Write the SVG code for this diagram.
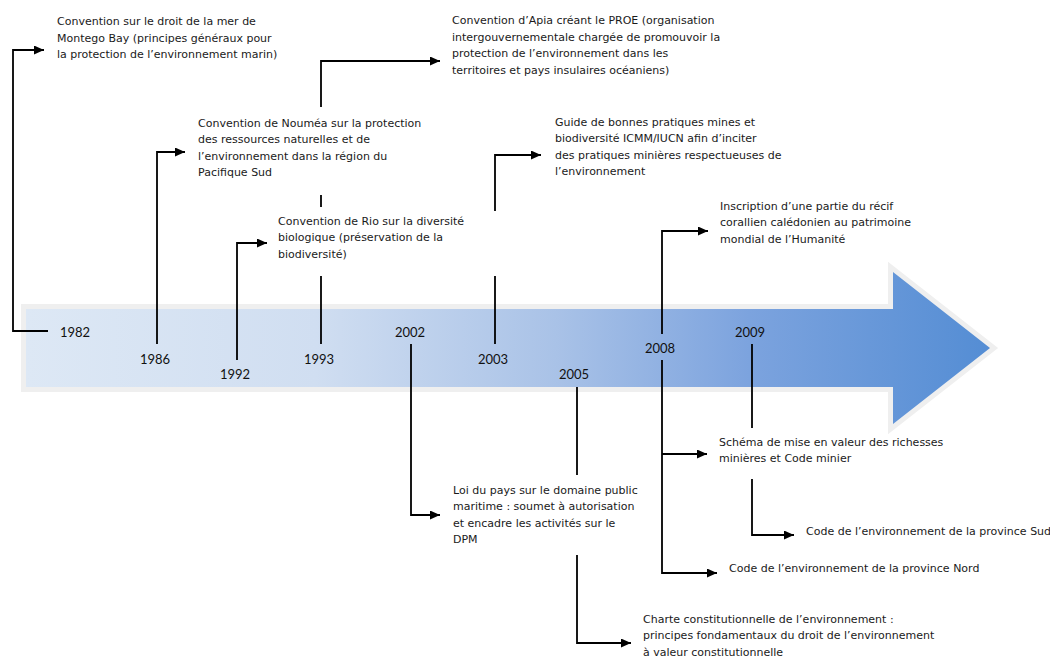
<svg xmlns="http://www.w3.org/2000/svg" width="1050" height="656" viewBox="0 0 1050 656">
<defs>
<linearGradient id="g" x1="0" y1="0" x2="1" y2="0">
<stop offset="0" stop-color="#dde8f5"/>
<stop offset="0.3" stop-color="#d0def1"/>
<stop offset="0.55" stop-color="#a9c2e7"/>
<stop offset="0.75" stop-color="#7ca3de"/>
<stop offset="1" stop-color="#548dd4"/>
</linearGradient>
<marker id="ah" markerUnits="userSpaceOnUse" markerWidth="11" markerHeight="9" refX="10" refY="4.5" orient="auto">
<path d="M0,0 L10,4.5 L0,9 z" fill="#000"/>
</marker>
<style>
.t{font-family:"DejaVu Sans",sans-serif;font-size:11px;fill:#1a1a1a}
.y{font-family:Lato,"Liberation Sans",sans-serif;font-size:13px;fill:#111;text-anchor:middle}
.c{fill:none;stroke:#000;stroke-width:1.8}
.a{marker-end:url(#ah)}
</style>
</defs>
<rect width="1050" height="656" fill="#fff"/>
<g id="timeline">
<polygon points="26,309 893,309 893,272 990,348 893,424 893,387 26,387" fill="url(#g)" stroke="#efefef" stroke-width="10" stroke-linejoin="miter" paint-order="stroke"/>
</g>
<g id="connectors">
<path class="c a" d="M48,331 H13 V50 H44"/>
<path class="c a" d="M157,344 V152 H185"/>
<path class="c a" d="M237,360 V243 H267"/>
<path class="c" d="M321,344 V276"/>
<path class="c" d="M321,207 V195"/>
<path class="c a" d="M321,107 V61 H440"/>
<path class="c a" d="M411,344 V515 H440"/>
<path class="c" d="M495,344 V276"/>
<path class="c a" d="M495,211 V155 H541"/>
<path class="c" d="M577,387 V475"/>
<path class="c a" d="M577,555 V643 H631"/>
<path class="c a" d="M662,334 V231 H708"/>
<path class="c a" d="M662,360 V573 H717"/>
<path class="c a" d="M662,454 H707"/>
<path class="c" d="M752,344 V428"/>
<path class="c a" d="M752,479 V535 H794"/>
</g>
<g id="years">
<text class="y" x="75" y="336.5">1982</text>
<text class="y" x="155" y="363.5">1986</text>
<text class="y" x="235" y="378.5">1992</text>
<text class="y" x="319" y="363.5">1993</text>
<text class="y" x="410" y="336.5">2002</text>
<text class="y" x="493" y="363.5">2003</text>
<text class="y" x="574" y="378.5">2005</text>
<text class="y" x="660" y="352.5">2008</text>
<text class="y" x="750" y="336.5">2009</text>
</g>
<g id="n1982"><text class="t" y="25"><tspan x="57">Convention sur le droit de la mer de</tspan><tspan x="57" dy="16.5">Montego Bay (principes généraux pour</tspan><tspan x="57" dy="16.5">la protection de l’environnement marin)</tspan></text></g>
<g id="n1986"><text class="t" y="126.5"><tspan x="198">Convention de Nouméa sur la protection</tspan><tspan x="198" dy="16.5">des ressources naturelles et de</tspan><tspan x="198" dy="16.5">l’environnement dans la région du</tspan><tspan x="198" dy="16.5">Pacifique Sud</tspan></text></g>
<g id="n1992"><text class="t" y="224.5"><tspan x="278">Convention de Rio sur la diversité</tspan><tspan x="278" dy="16.5">biologique (préservation de la</tspan><tspan x="278" dy="16.5">biodiversité)</tspan></text></g>
<g id="n1993"><text class="t" y="24"><tspan x="452">Convention d’Apia créant le PROE (organisation</tspan><tspan x="452" dy="16.5">intergouvernementale chargée de promouvoir la</tspan><tspan x="452" dy="16.5">protection de l’environnement dans les</tspan><tspan x="452" dy="16.5">territoires et pays insulaires océaniens)</tspan></text></g>
<g id="n2002"><text class="t" y="493.5"><tspan x="453">Loi du pays sur le domaine public</tspan><tspan x="453" dy="16.5">maritime : soumet à autorisation</tspan><tspan x="453" dy="16.5">et encadre les activités sur le</tspan><tspan x="453" dy="16.5">DPM</tspan></text></g>
<g id="n2003"><text class="t" y="125.5"><tspan x="555">Guide de bonnes pratiques mines et</tspan><tspan x="555" dy="16.5">biodiversité ICMM/IUCN afin d’inciter</tspan><tspan x="555" dy="16.5">des pratiques minières respectueuses de</tspan><tspan x="555" dy="16.5">l’environnement</tspan></text></g>
<g id="n2005"><text class="t" y="622.5"><tspan x="643">Charte constitutionnelle de l’environnement :</tspan><tspan x="643" dy="16.5">principes fondamentaux du droit de l’environnement</tspan><tspan x="643" dy="16.5">à valeur constitutionnelle</tspan></text></g>
<g id="n2008a"><text class="t" y="209.5"><tspan x="720">Inscription d’une partie du récif</tspan><tspan x="720" dy="16.5">corallien calédonien au patrimoine</tspan><tspan x="720" dy="16.5">mondial de l’Humanité</tspan></text></g>
<g id="n2008b"><text class="t" y="445.5"><tspan x="719">Schéma de mise en valeur des richesses</tspan><tspan x="719" dy="16.5">minières et Code minier</tspan></text></g>
<g id="n2008c"><text class="t" x="729" y="571.5">Code de l’environnement de la province Nord</text></g>
<g id="n2009"><text class="t" x="806" y="534.5">Code de l’environnement de la province Sud</text></g>
</svg>
